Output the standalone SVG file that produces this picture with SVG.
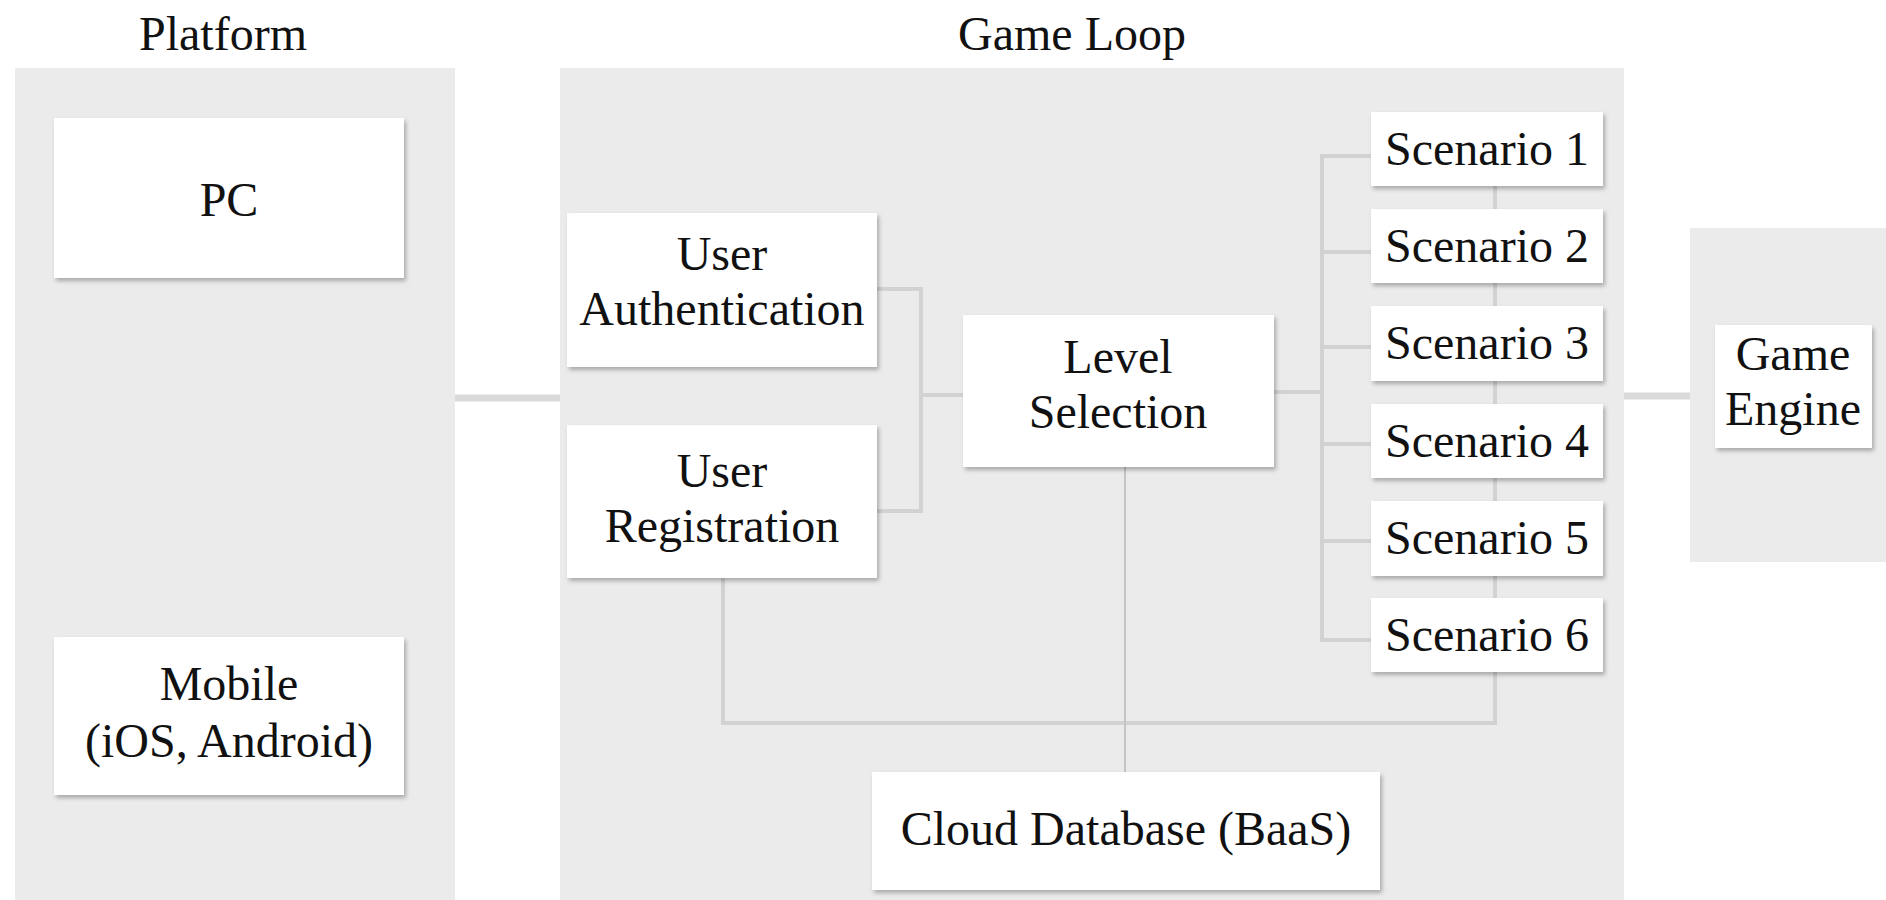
<svg xmlns="http://www.w3.org/2000/svg" width="1886" height="900" viewBox="0 0 1886 900">
<defs>
<filter id="sh" x="-10%" y="-10%" width="130%" height="140%">
<feDropShadow dx="2" dy="3" stdDeviation="2" flood-color="#000" flood-opacity="0.28"/>
</filter>
</defs>
<style>
text{font-family:"Liberation Serif","Times New Roman",serif;font-size:48px;fill:#111;text-anchor:middle}
.panel{fill:#ebebeb}
.box{fill:#fff;filter:url(#sh)}
.ln{fill:none;stroke:#d2d2d2;stroke-width:4}
.thick{fill:none;stroke:#dadada;stroke-width:7}
.thin{fill:none;stroke:#c4c4c4;stroke-width:2}
</style>
<rect width="1886" height="900" fill="#fff"/>
<g id="platform">
<rect class="panel" x="15" y="68" width="440" height="832"/>
<text x="223" y="50">Platform</text>
</g>
<g id="gameloop">
<rect class="panel" x="560" y="68" width="1064" height="832"/>
<text x="1072" y="50">Game Loop</text>
</g>
<g id="engine-panel">
<rect class="panel" x="1690" y="228" width="196" height="334"/>
</g>
<g id="connectors">
<line class="thick" x1="455" y1="398" x2="560" y2="398"/>
<line class="thick" x1="1624" y1="396" x2="1690" y2="396"/>
<polyline class="ln" points="877,289 921,289 921,511 877,511"/>
<line class="ln" x1="921" y1="395" x2="963" y2="395"/>
<line class="ln" x1="1274" y1="392" x2="1322" y2="392"/>
<polyline class="ln" points="1371,156 1322,156 1322,640 1371,640"/>
<line class="ln" x1="1322" y1="252" x2="1371" y2="252"/>
<line class="ln" x1="1322" y1="347" x2="1371" y2="347"/>
<line class="ln" x1="1322" y1="444" x2="1371" y2="444"/>
<line class="ln" x1="1322" y1="541" x2="1371" y2="541"/>
<polyline class="ln" points="723,578 723,723 1495,723 1495,186"/>
<line class="thin" x1="1125" y1="467" x2="1125" y2="772"/>
</g>
<g id="pc"><rect class="box" x="54" y="118" width="350" height="160"/><text x="229" y="216">PC</text></g>
<g id="mobile"><rect class="box" x="54" y="637" width="350" height="158"/><text x="229" y="700">Mobile</text><text x="229" y="757">(iOS, Android)</text></g>
<g id="user-auth"><rect class="box" x="567" y="213" width="310" height="154"/><text x="722" y="270">User</text><text x="722" y="325">Authentication</text></g>
<g id="user-reg"><rect class="box" x="567" y="425" width="310" height="153"/><text x="722" y="487">User</text><text x="722" y="542">Registration</text></g>
<g id="level"><rect class="box" x="963" y="315" width="311" height="152"/><text x="1118" y="373">Level</text><text x="1118" y="428">Selection</text></g>
<g id="s1"><rect class="box" x="1371" y="112" width="232" height="74"/><text x="1487" y="165">Scenario 1</text></g>
<g id="s2"><rect class="box" x="1371" y="209" width="232" height="74"/><text x="1487" y="262">Scenario 2</text></g>
<g id="s3"><rect class="box" x="1371" y="306" width="232" height="75"/><text x="1487" y="359">Scenario 3</text></g>
<g id="s4"><rect class="box" x="1371" y="404" width="232" height="74"/><text x="1487" y="457">Scenario 4</text></g>
<g id="s5"><rect class="box" x="1371" y="501" width="232" height="75"/><text x="1487" y="554">Scenario 5</text></g>
<g id="s6"><rect class="box" x="1371" y="598" width="232" height="74"/><text x="1487" y="651">Scenario 6</text></g>
<g id="cloud"><rect class="box" x="872" y="772" width="508" height="118"/><text x="1126" y="845">Cloud Database (BaaS)</text></g>
<g id="engine"><rect class="box" x="1715" y="325" width="157" height="123"/><text x="1793" y="370">Game</text><text x="1793" y="425">Engine</text></g>
</svg>
